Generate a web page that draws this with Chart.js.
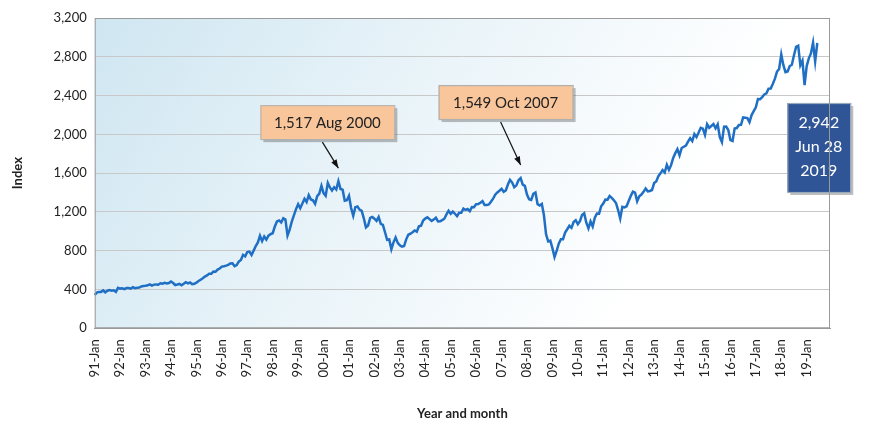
<!DOCTYPE html>
<html>
<head>
<meta charset="utf-8">
<script src="https://cdn.jsdelivr.net/npm/chart.js@4"></script>
<style>
  body { margin: 0; background: #fff; }
  #wrap { width: 870px; height: 434px; }
</style>
</head>
<body>
<div id="wrap"><canvas id="myChart" width="870" height="434"></canvas></div>
<script>
"use strict";

// Monthly index values, Jan 1991 .. Jun 2019
const years = [];
for (let y = 1991; y <= 2019; y++) years.push(y);

const v1991 = [343, 367, 375, 375, 390, 371, 387, 395, 388, 392, 375, 417];
const v1992 = [409, 412, 404, 415, 415, 408, 424, 414, 418, 419, 431, 436];
const v1993 = [439, 443, 452, 440, 450, 451, 448, 464, 459, 468, 462, 466];
const v1994 = [482, 467, 446, 451, 457, 444, 458, 475, 463, 472, 454, 459];
const v1995 = [470, 487, 501, 515, 533, 545, 562, 562, 584, 582, 605, 616];
const v1996 = [636, 640, 646, 654, 669, 671, 640, 652, 687, 705, 757, 741];
const v1997 = [786, 791, 757, 801, 848, 885, 954, 899, 947, 915, 955, 970];
const v1998 = [980, 1049, 1102, 1112, 1091, 1134, 1121, 957, 1017, 1099, 1164, 1229];
const v1999 = [1280, 1238, 1286, 1335, 1302, 1373, 1329, 1320, 1283, 1363, 1389, 1469];
const v2000 = [1394, 1366, 1499, 1452, 1421, 1455, 1431, 1517, 1437, 1429, 1315, 1320];
const v2001 = [1366, 1240, 1160, 1249, 1256, 1224, 1211, 1134, 1041, 1060, 1139, 1148];
const v2002 = [1130, 1107, 1147, 1077, 1067, 990, 912, 916, 815, 886, 936, 880];
const v2003 = [856, 841, 848, 917, 964, 975, 990, 1008, 996, 1051, 1058, 1112];
const v2004 = [1131, 1145, 1126, 1107, 1121, 1141, 1102, 1104, 1115, 1130, 1174, 1212];
const v2005 = [1181, 1204, 1181, 1157, 1192, 1191, 1234, 1220, 1229, 1207, 1249, 1248];
const v2006 = [1280, 1281, 1295, 1311, 1270, 1270, 1277, 1304, 1336, 1378, 1401, 1418];
const v2007 = [1438, 1407, 1421, 1482, 1531, 1503, 1455, 1474, 1527, 1549, 1481, 1468];
const v2008 = [1379, 1331, 1323, 1386, 1400, 1280, 1267, 1283, 1165, 969, 896, 903];
const v2009 = [826, 735, 798, 873, 919, 919, 987, 1021, 1057, 1036, 1096, 1115];
const v2010 = [1074, 1104, 1169, 1187, 1089, 1031, 1102, 1049, 1141, 1183, 1181, 1258];
const v2011 = [1286, 1327, 1326, 1364, 1345, 1321, 1292, 1219, 1131, 1253, 1247, 1258];
const v2012 = [1312, 1366, 1408, 1398, 1310, 1362, 1379, 1407, 1441, 1412, 1416, 1426];
const v2013 = [1498, 1515, 1569, 1598, 1631, 1606, 1686, 1633, 1682, 1757, 1806, 1848];
const v2014 = [1783, 1859, 1872, 1884, 1924, 1960, 1931, 2003, 1972, 2018, 2068, 2059];
const v2015 = [1995, 2105, 2068, 2086, 2107, 2063, 2104, 1972, 1920, 2079, 2080, 2044];
const v2016 = [1940, 1932, 2060, 2065, 2097, 2099, 2174, 2171, 2168, 2126, 2199, 2239];
const v2017 = [2279, 2364, 2363, 2384, 2412, 2423, 2470, 2472, 2519, 2575, 2648, 2674];
const v2018 = [2824, 2714, 2641, 2648, 2705, 2718, 2816, 2902, 2914, 2712, 2760, 2507];
const v2019 = [2704, 2784, 2834, 2946, 2752, 2942];

const yTicks = [0, 400, 800, 1200, 1600, 2000, 2400, 2800, 3200];

const values = [].concat(v1991, v1992, v1993, v1994, v1995, v1996, v1997, v1998, v1999,
  v2000, v2001, v2002, v2003, v2004, v2005, v2006, v2007, v2008, v2009, v2010,
  v2011, v2012, v2013, v2014, v2015, v2016, v2017, v2018, v2019);

const monthNames = ["Jan", "Feb", "Mar", "Apr", "May", "Jun", "Jul", "Aug", "Sep", "Oct", "Nov", "Dec"];
let labels = [];
years.forEach((y) => {
  monthNames.forEach((m) => labels.push(String(y % 100).padStart(2, "0") + "-" + m));
});
// a little empty room on the right, as in the original
labels = labels.slice(0, 351);

// annotations: month index, text, box offset from the point
const notes = [
  { idx: 115, text: "1,517 Aug 2000", dx: -11, dy: -42 },
  { idx: 201, text: "1,549 Oct 2007", dx: -15, dy: -59 },
];
const lastNote = ["2,942", "Jun 28", "2019"];

const font = "Lato, 'DejaVu Sans', sans-serif";
Chart.defaults.font.family = font;
Chart.defaults.color = "#222";

const bgPlugin = {
  id: "bg",
  beforeDraw(chart) {
    const { ctx, chartArea: a } = chart;
    const g = ctx.createLinearGradient(a.left, a.top, a.left + a.width * 0.7, a.bottom);
    g.addColorStop(0, "#cfe6f1");
    g.addColorStop(0.45, "#e6f2f8");
    g.addColorStop(1, "#ffffff");
    ctx.save();
    ctx.fillStyle = g;
    ctx.fillRect(a.left, a.top, a.width, a.height);
    ctx.restore();
  },
  afterDraw(chart) {
    const { ctx, chartArea: a } = chart;
    ctx.save();
    ctx.strokeStyle = "#9a9a9a";
    ctx.lineWidth = 1;
    ctx.strokeRect(a.left + 0.5, a.top + 0.5, a.width - 1, a.height - 1);
    ctx.restore();
  },
};

const notePlugin = {
  id: "notes",
  afterDatasetsDraw(chart) {
    const { ctx, scales } = chart;
    ctx.save();
    ctx.font = "15px " + font;
    notes.forEach((n) => {
      const px = scales.x.getPixelForValue(n.idx);
      const py = scales.y.getPixelForValue(values[n.idx]);
      const w = 134, h = 34;
      const bx = px + n.dx - w / 2, by = py + n.dy - h;
      ctx.fillStyle = "rgba(0,0,0,0.25)";
      ctx.fillRect(bx + 3, by + 3, w, h);
      ctx.fillStyle = "#f9c59a";
      ctx.fillRect(bx, by, w, h);
      ctx.strokeStyle = "#b0b0b0";
      ctx.strokeRect(bx + 0.5, by + 0.5, w, h);
      ctx.fillStyle = "#222";
      ctx.textAlign = "center";
      ctx.textBaseline = "middle";
      ctx.fillText(n.text, bx + w / 2, by + h / 2 + 1);
      // arrow
      const sx = bx + w / 2 - 5, sy = by + h + 3;
      const ex = px, ey = py - 13;
      ctx.strokeStyle = "#111";
      ctx.lineWidth = 1.2;
      ctx.beginPath();
      ctx.moveTo(sx, sy);
      ctx.lineTo(ex, ey);
      ctx.stroke();
      const ang = Math.atan2(ey - sy, ex - sx);
      ctx.fillStyle = "#111";
      ctx.beginPath();
      ctx.moveTo(ex, ey);
      ctx.lineTo(ex - 9 * Math.cos(ang - 0.35), ey - 9 * Math.sin(ang - 0.35));
      ctx.lineTo(ex - 9 * Math.cos(ang + 0.35), ey - 9 * Math.sin(ang + 0.35));
      ctx.closePath();
      ctx.fill();
    });
    // last value box
    const li = values.length - 1;
    const lx = scales.x.getPixelForValue(li);
    const ly = scales.y.getPixelForValue(values[li]);
    const w = 63, h = 89;
    const bx = lx - 30, by = ly + 60;
    ctx.fillStyle = "rgba(0,0,0,0.25)";
    ctx.fillRect(bx + 3, by + 3, w, h);
    ctx.fillStyle = "#2f5597";
    ctx.fillRect(bx, by, w, h);
    ctx.strokeStyle = "#9ab";
    ctx.strokeRect(bx + 0.5, by + 0.5, w, h);
    ctx.fillStyle = "#fff";
    ctx.font = "16px " + font;
    ctx.textAlign = "center";
    ctx.textBaseline = "middle";
    lastNote.forEach((t, i) => ctx.fillText(t, bx + w / 2, by + 20 + i * 24));
    ctx.restore();
  },
};

const myChart = new Chart(document.getElementById("myChart").getContext("2d"), {
  type: "line",
  data: {
    labels: labels,
    datasets: [
      {
        data: values,
        borderColor: "#1f6fc5",
        borderWidth: 2.5,
        pointRadius: 0,
        tension: 0,
      },
    ],
  },
  options: {
    responsive: false,
    animation: false,
    layout: { padding: { top: 18, right: 40, left: 6, bottom: 8 } },
    plugins: { legend: { display: false }, tooltip: { enabled: false } },
    scales: {
      x: {
        offset: false,
        grid: { display: false },
        border: { color: "#9a9a9a" },
        ticks: {
          autoSkip: false,
          maxRotation: 90,
          minRotation: 90,
          font: { size: 13 },
          color: "#222",
          callback: function (val, i) {
            const l = labels[i];
            return l.endsWith("Jan") ? l : null;
          },
        },
        title: {
          display: true,
          text: "Year and month",
          font: { size: 13, weight: "bold" },
          padding: { top: 26 },
        },
      },
      y: {
        min: 0,
        max: 3200,
        afterBuildTicks: (axis) => {
          axis.ticks = yTicks.map((v) => ({ value: v }));
        },
        grid: { color: "#c8c8c8", drawTicks: false },
        border: { display: false },
        ticks: {
          padding: 8,
          font: { size: 13 },
          color: "#222",
          callback: (v) => v.toLocaleString("en-US"),
        },
        title: {
          display: true,
          text: "Index",
          font: { size: 13, weight: "bold" },
          padding: { bottom: 20 },
        },
      },
    },
  },
  plugins: [bgPlugin, notePlugin],
});
</script>
</body>
</html>
